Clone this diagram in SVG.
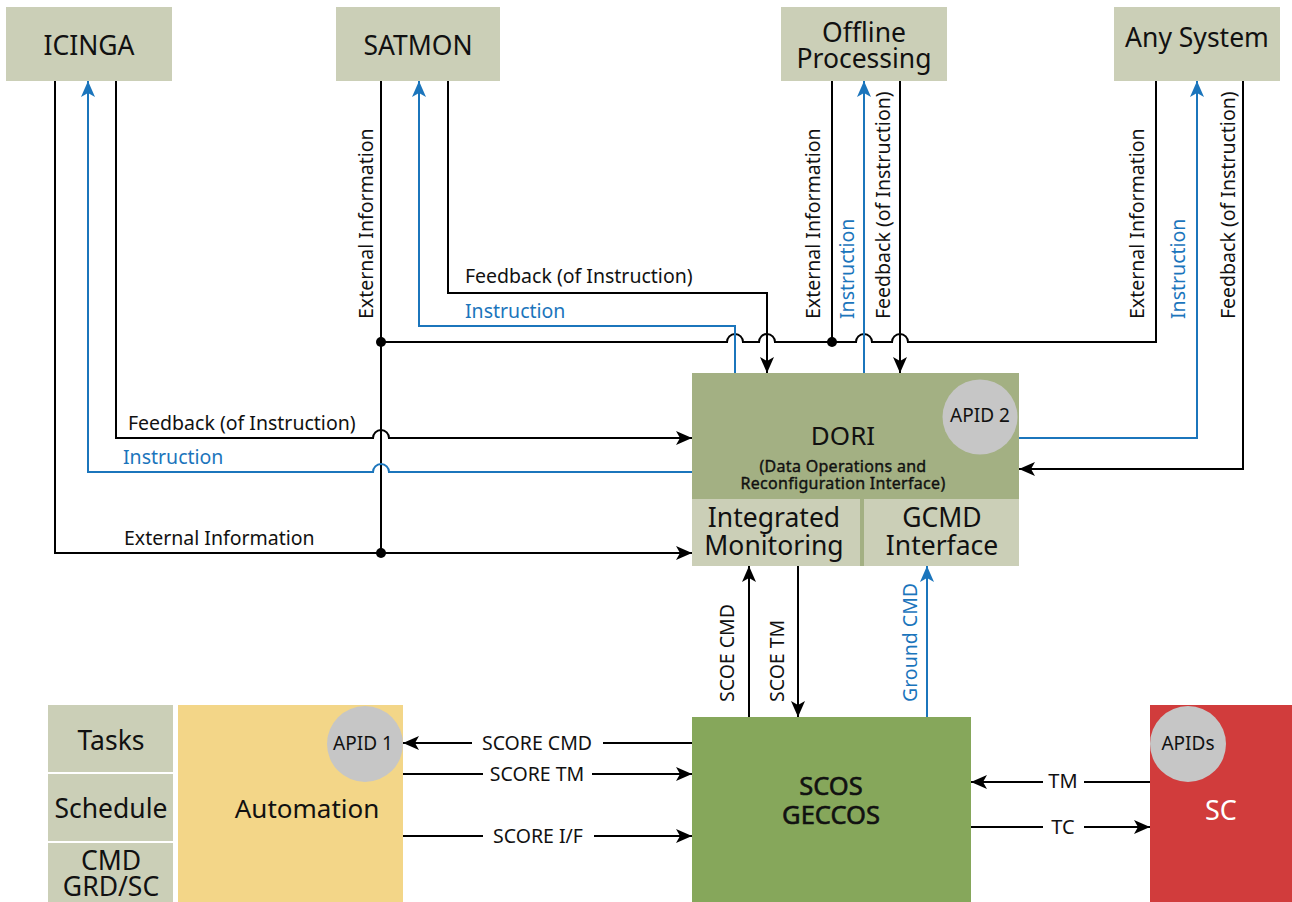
<svg xmlns="http://www.w3.org/2000/svg" width="1292" height="902" viewBox="0 0 1292 902">
<style>
text{font-family:"Noto Sans","Open Sans","DejaVu Sans",sans-serif;fill:#111}
.big{font-size:26.5px;text-anchor:middle}
.lbl{font-size:19.5px}
.mid{text-anchor:middle}
.med{stroke:#111;stroke-width:0.6px}
.blue{fill:#1b75bc}
.box{fill:#cbcfb7}
.k{fill:none;stroke:#000;stroke-width:2}
.b{fill:none;stroke:#1b75bc;stroke-width:2}
.ak{marker-end:url(#ak)}
.ab{marker-end:url(#ab)}
.circ{fill:#c6c6c6}
</style>
<defs>
<marker id="ak" markerUnits="userSpaceOnUse" markerWidth="18" markerHeight="14" refX="16" refY="7" orient="auto">
<path d="M0,0 L16,7 L0,14 L4,7 Z" fill="#000"/>
</marker>
<marker id="ab" markerUnits="userSpaceOnUse" markerWidth="18" markerHeight="14" refX="16" refY="7" orient="auto">
<path d="M0,0 L16,7 L0,14 L4,7 Z" fill="#1b75bc"/>
</marker>
</defs>
<rect width="1292" height="902" fill="#fff"/>

<g id="icinga"><rect class="box" x="6" y="7" width="166" height="74"/><text class="big" x="89" y="55">ICINGA</text></g>
<g id="satmon"><rect class="box" x="336" y="7" width="164" height="74"/><text class="big" x="418" y="55">SATMON</text></g>
<g id="offline"><rect class="box" x="781" y="7" width="166" height="74"/><text class="big" x="864" y="42">Offline</text><text class="big" x="864" y="68">Processing</text></g>
<g id="anysystem"><rect class="box" x="1114" y="7" width="166" height="74"/><text class="big" x="1197" y="47">Any System</text></g>

<g id="dori">
<rect x="692" y="373" width="327" height="193" fill="#a3b083"/>
<circle class="circ" cx="980" cy="417" r="37.5"/>
<text class="mid" x="980" y="422" style="font-size:19px">APID 2</text>
<text class="mid" x="843" y="445" style="font-size:26px">DORI</text>
<text class="mid med" x="843" y="472" style="font-size:16px;letter-spacing:0.3px;stroke-width:0.4px">(Data Operations and</text>
<text class="mid med" x="843" y="489" style="font-size:16px;letter-spacing:0.3px;stroke-width:0.4px">Reconfiguration Interface)</text>
</g>
<g id="integrated-monitoring"><rect class="box" x="692" y="499" width="168" height="67"/><text class="big" x="774" y="527">Integrated</text><text class="big" x="774" y="555">Monitoring</text></g>
<g id="gcmd-interface"><rect class="box" x="864" y="499" width="155" height="67"/><text class="big" x="942" y="527">GCMD</text><text class="big" x="942" y="555">Interface</text></g>

<g id="scos"><rect x="692" y="717" width="279" height="185" fill="#86a75b"/><text class="mid med" x="831" y="795" style="font-size:25.5px">SCOS</text><text class="mid med" x="831" y="824" style="font-size:25.5px">GECCOS</text></g>
<g id="automation"><rect x="178" y="705" width="225" height="197" fill="#f3d688"/><circle class="circ" cx="365" cy="744" r="38"/><text class="mid" x="363" y="750" style="font-size:19px">APID 1</text><text class="mid" x="307" y="818" style="font-size:26px">Automation</text></g>
<g id="tasks"><rect class="box" x="48" y="705" width="125" height="67"/><text class="big" x="111" y="750">Tasks</text></g>
<g id="schedule"><rect class="box" x="48" y="774" width="125" height="67"/><text class="big" x="111" y="818">Schedule</text></g>
<g id="cmd"><rect class="box" x="48" y="843" width="125" height="59"/><text class="big" x="111" y="870">CMD</text><text class="big" x="111" y="896">GRD/SC</text></g>
<g id="sc"><rect x="1150" y="705" width="142" height="197" fill="#d13c3c"/><circle class="circ" cx="1188" cy="744" r="38"/><text class="mid" x="1188" y="750" style="font-size:19px">APIDs</text><text class="mid" x="1221" y="820" style="font-size:27px;fill:#fff">SC</text></g>

<g id="connectors">
<path class="k ak" d="M55,81 V553 H692"/>
<path class="k" d="M381,81 V553"/>
<path class="k" d="M381,342 H727 a8,8 0 0 1 16,0 H759 a8,8 0 0 1 16,0 H856 a8,8 0 0 1 16,0 H892 a8,8 0 0 1 16,0 H1156 V81"/>
<path class="k" d="M832,81 V342"/>
<path class="k ak" d="M116,81 V438 H373 a8,8 0 0 1 16,0 H692"/>
<path class="b ab" d="M692,472 H389 a8,8 0 0 0 -16,0 H88 V81"/>
<path class="k ak" d="M448,81 V293 H767 V373"/>
<path class="b ab" d="M735,373 V326 H419 V81"/>
<path class="b ab" d="M864,373 V81"/>
<path class="k ak" d="M900,81 V373"/>
<path class="b ab" d="M1019,438 H1197 V81"/>
<path class="k ak" d="M1243,81 V469 H1019"/>
<circle cx="381" cy="342" r="5"/>
<circle cx="832" cy="342" r="5"/>
<circle cx="381" cy="553" r="5"/>
<path class="k ak" d="M749,717 V566"/>
<path class="k ak" d="M798,566 V717"/>
<path class="b ab" d="M927,717 V566"/>
<path class="k" d="M692,743 H603"/><path class="k ak" d="M472,743 H403"/>
<path class="k" d="M403,774 H483"/><path class="k ak" d="M592,774 H692"/>
<path class="k" d="M403,836 H483"/><path class="k ak" d="M594,836 H692"/>
<path class="k" d="M1150,782 H1084"/><path class="k ak" d="M1043,782 H971"/>
<path class="k" d="M971,827 H1043"/><path class="k ak" d="M1084,827 H1150"/>
</g>

<g id="labels">
<text class="lbl" x="128" y="430">Feedback (of Instruction)</text>
<text class="lbl blue" x="123" y="464">Instruction</text>
<text class="lbl" x="124" y="545">External Information</text>
<text class="lbl" x="465" y="283">Feedback (of Instruction)</text>
<text class="lbl blue" x="465" y="318">Instruction</text>
<text class="lbl" transform="translate(373,319) rotate(-90)">External Information</text>
<text class="lbl" transform="translate(820,319) rotate(-90)">External Information</text>
<text class="lbl blue" transform="translate(854,319) rotate(-90)">Instruction</text>
<text class="lbl" transform="translate(890,319) rotate(-90)">Feedback (of Instruction)</text>
<text class="lbl" transform="translate(1144,319) rotate(-90)">External Information</text>
<text class="lbl blue" transform="translate(1185,319) rotate(-90)">Instruction</text>
<text class="lbl" transform="translate(1235,319) rotate(-90)">Feedback (of Instruction)</text>
<text class="lbl" transform="translate(734,702) rotate(-90)">SCOE CMD</text>
<text class="lbl" transform="translate(784,702) rotate(-90)">SCOE TM</text>
<text class="lbl blue" transform="translate(917,702) rotate(-90)">Ground CMD</text>
<text class="lbl mid" x="537" y="750">SCORE CMD</text>
<text class="lbl mid" x="537" y="781">SCORE TM</text>
<text class="lbl mid" x="538" y="843">SCORE I/F</text>
<text class="lbl mid" x="1063" y="788" style="font-size:20px">TM</text>
<text class="lbl mid" x="1063" y="834" style="font-size:20px">TC</text>
</g>
</svg>
